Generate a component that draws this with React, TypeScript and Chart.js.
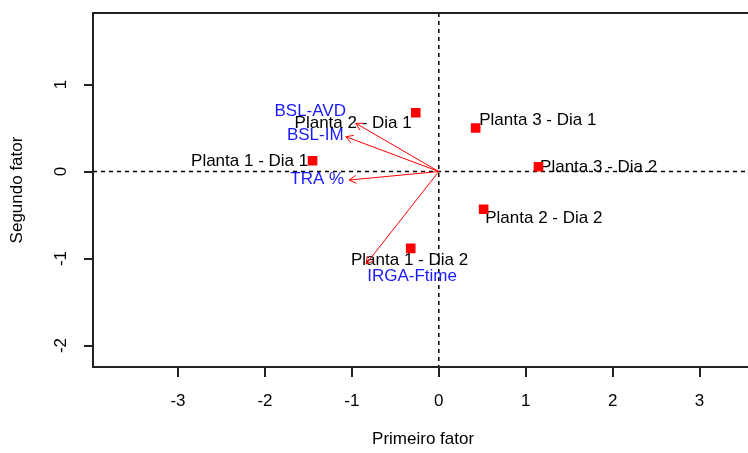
import React, { useEffect, useRef } from "react";
import { Chart, registerables } from "chart.js";

Chart.register(...registerables);

// Axis ranges (data units)
const X_MIN = -3.978;
const X_MAX = 3.617;
const Y_MIN = -2.247;
const Y_MAX = 1.822;

// Observations (red squares)
const obsNames = [
  "Planta 1 - Dia 1",
  "Planta 1 - Dia 2",
  "Planta 2 - Dia 1",
  "Planta 2 - Dia 2",
  "Planta 3 - Dia 1",
  "Planta 3 - Dia 2",
];
const obsX = [-1.452, -0.323, -0.265, 0.516, 0.424, 1.147];
const obsY = [0.124, -0.883, 0.676, -0.434, 0.5, 0.055];
// Observation label centres
const obsLabelX = [-2.176, -0.336, -0.985, 1.208, 1.139, 1.839];
const obsLabelY = [0.113, -1.017, 0.554, -0.534, 0.592, 0.052];

// Variables (red arrows from origin)
const varNames = ["BSL-AVD", "BSL-IM", "TRA %", "IRGA-Ftime"];
const varX = [-0.954, -1.069, -1.031, -0.836];
const varY = [0.554, 0.4, -0.098, -1.063];
// Variable label centres
const varLabelX = [-1.479, -1.421, -1.398, -0.308];
const varLabelY = [0.687, 0.42, -0.09, -1.2];

const xTicks = [-3, -2, -1, 0, 1, 2, 3];
const yTicks = [-2, -1, 0, 1];

const FAMILY = "'Liberation Sans', Arial, sans-serif";
const FONT_SIZE = 17;

export default function App() {
  const ref = useRef<HTMLCanvasElement>(null);

  useEffect(() => {
    const canvas = ref.current;
    if (!canvas) return;

    const biplot = {
      id: "biplot",
      beforeDatasetsDraw(chart: any) {
        const { ctx, chartArea } = chart;
        const xs = chart.scales.x;
        const ys = chart.scales.y;
        ctx.save();
        ctx.strokeStyle = "#000";
        ctx.lineWidth = 1.5;
        ctx.setLineDash([4, 4]);
        const x0 = xs.getPixelForValue(0);
        const y0 = ys.getPixelForValue(0);
        ctx.beginPath();
        ctx.moveTo(x0, chartArea.top);
        ctx.lineTo(x0, chartArea.bottom);
        ctx.moveTo(chartArea.left, y0);
        ctx.lineTo(chartArea.right, y0);
        ctx.stroke();
        ctx.setLineDash([]);

        // observation labels
        ctx.font = `${FONT_SIZE}px ${FAMILY}`;
        ctx.textAlign = "center";
        ctx.textBaseline = "middle";
        ctx.fillStyle = "#000";
        obsNames.forEach((n, i) => {
          ctx.fillText(n, xs.getPixelForValue(obsLabelX[i]), ys.getPixelForValue(obsLabelY[i]));
        });
        ctx.restore();
      },
      afterDatasetsDraw(chart: any) {
        const { ctx } = chart;
        const xs = chart.scales.x;
        const ys = chart.scales.y;
        const x0 = xs.getPixelForValue(0);
        const y0 = ys.getPixelForValue(0);
        ctx.save();
        ctx.strokeStyle = "#ff0000";
        ctx.lineWidth = 1;
        varNames.forEach((_, i) => {
          const x1 = xs.getPixelForValue(varX[i]);
          const y1 = ys.getPixelForValue(varY[i]);
          const ang = Math.atan2(y1 - y0, x1 - x0);
          const len = 8;
          const a = Math.PI / 6;
          ctx.beginPath();
          ctx.moveTo(x0, y0);
          ctx.lineTo(x1, y1);
          ctx.moveTo(x1 - len * Math.cos(ang - a), y1 - len * Math.sin(ang - a));
          ctx.lineTo(x1, y1);
          ctx.lineTo(x1 - len * Math.cos(ang + a), y1 - len * Math.sin(ang + a));
          ctx.stroke();
        });
        ctx.font = `${FONT_SIZE}px ${FAMILY}`;
        ctx.textAlign = "center";
        ctx.textBaseline = "middle";
        ctx.fillStyle = "#1a1aff";
        varNames.forEach((n, i) => {
          ctx.fillText(n, xs.getPixelForValue(varLabelX[i]), ys.getPixelForValue(varLabelY[i]));
        });
        ctx.restore();
      },
      afterDraw(chart: any) {
        const { ctx, chartArea } = chart;
        ctx.save();
        ctx.strokeStyle = "#222";
        ctx.lineWidth = 2;
        ctx.strokeRect(
          chartArea.left,
          chartArea.top,
          chartArea.right - chartArea.left,
          chartArea.bottom - chartArea.top
        );
        ctx.restore();
      },
    };

    const font = { family: FAMILY, size: FONT_SIZE };

    const chart = new Chart(canvas, {
      type: "scatter",
      data: {
        datasets: [
          {
            data: obsX.map((x, i) => ({ x, y: obsY[i] })),
            backgroundColor: "#ff0000",
            borderWidth: 0,
            pointStyle: "rect",
            pointRadius: 6.8,
          },
        ],
      },
      options: {
        responsive: false,
        animation: false,
        events: [],
        layout: { padding: { top: 13, right: 1, left: 0, bottom: 0 } },
        plugins: {
          legend: { display: false },
          tooltip: { enabled: false },
        },
        scales: {
          x: {
            type: "linear",
            min: X_MIN,
            max: X_MAX,
            afterFit: (s: any) => {
              s.height = 86;
              s.paddingLeft = 0;
              s.paddingRight = 0;
            },
            afterBuildTicks: (s: any) => {
              s.ticks = xTicks.map((v) => ({ value: v }));
            },
            ticks: {
              font,
              color: "#000",
              padding: 14,
              maxRotation: 0,
              minRotation: 0,
              callback: (v: any) => String(v),
            },
            grid: {
              drawOnChartArea: false,
              tickLength: 10,
              color: "#222",
              lineWidth: 2,
            },
            border: { display: false },
            title: {
              display: true,
              text: "Primeiro fator",
              font,
              color: "#000",
              padding: { top: 0, bottom: 3 },
            },
          },
          y: {
            type: "linear",
            min: Y_MIN,
            max: Y_MAX,
            afterFit: (s: any) => {
              s.width = 93;
              s.paddingTop = 0;
              s.paddingBottom = 0;
            },
            afterBuildTicks: (s: any) => {
              s.ticks = yTicks.map((v) => ({ value: v }));
            },
            ticks: {
              font,
              color: "#000",
              padding: 15,
              minRotation: 90,
              maxRotation: 90,
              crossAlign: "center",
              callback: (v: any) => String(v),
            },
            grid: {
              drawOnChartArea: false,
              tickLength: 9,
              color: "#222",
              lineWidth: 2,
            },
            border: { display: false },
            title: {
              display: true,
              text: "Segundo fator",
              font,
              color: "#000",
              padding: { top: 7, bottom: 0 },
            },
          },
        },
      },
      plugins: [biplot],
    });

    return () => chart.destroy();
  }, []);

  return (
    <div
      style={{
        position: "fixed",
        left: 0,
        top: 0,
        width: 748,
        height: 453,
        overflow: "hidden",
        background: "#fff",
      }}
    >
      <canvas ref={ref} width={760} height={453} style={{ display: "block" }} />
    </div>
  );
}
